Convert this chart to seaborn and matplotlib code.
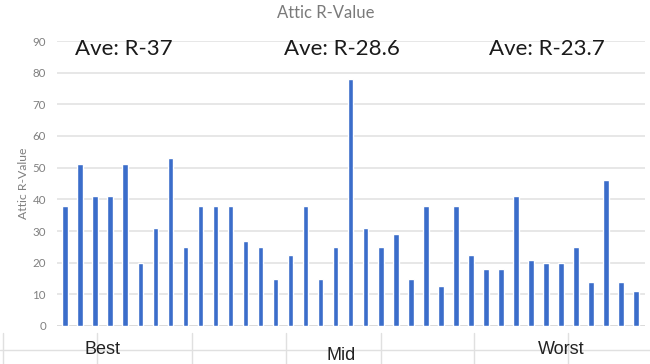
import matplotlib
matplotlib.use("Agg")
import matplotlib.pyplot as plt
from matplotlib.lines import Line2D
import seaborn as sns
import pandas as pd

# Attic R-values per home, ordered from best to worst group
homes = [f"H{i + 1}" for i in range(39)]
r_values = [38, 51, 41, 41, 51, 20, 31, 53, 25, 38,
            38, 38, 27, 25, 15, 22.5, 38, 15, 25, 78,
            31, 25, 29, 15, 38, 12.5, 38, 22.5, 18, 18,
            41, 21, 20, 20, 25, 14, 46, 14, 11]
groups = ["Best", "Mid", "Worst"]
group_averages = ["Ave: R-37", "Ave: R-28.6", "Ave: R-23.7"]
y_ticks = list(range(0, 91, 10))

df = pd.DataFrame({"home": homes, "r": r_values})

sns.set_theme(style="white")
plt.rcParams["font.family"] = ["Lato", "DejaVu Sans"]

fig = plt.figure(figsize=(6.5, 3.64), dpi=100)
ax = fig.add_axes([57 / 650, 38 / 364, 588 / 650, 285 / 364])

sns.barplot(data=df, x="home", y="r", color="#3b6dca", saturation=1,
            width=0.38, ax=ax, zorder=3)

ax.set_ylim(0, 90)
ax.set_xlim(-0.55, 38.6)
ax.set_yticks(y_ticks)
ax.set_yticklabels([str(t) for t in y_ticks], color="#808080", fontsize=8.3)
ax.tick_params(axis="y", length=0, pad=8)
ax.set_xticks([])
ax.set_xlabel("")
ax.set_ylabel("Attic R-Value", color="#808080", fontsize=8.8)
ax.yaxis.set_label_coords(-0.048, 0.5)
ax.grid(axis="y", color="#e3e3e3", linewidth=1.2, zorder=0)
for s in ax.spines.values():
    s.set_visible(False)
ax.axhline(0, color="#d9d9d9", linewidth=1.2, zorder=2)

fig.text(326 / 650, 1 - 13 / 364, "Attic R-Value", ha="center", va="center",
         color="#7a7a7a", fontsize=12)

# group averages
ave_x = [124, 342, 547]
for x, label in zip(ave_x, group_averages):
    fig.text(x / 650, 1 - 49 / 364, label, ha="center", va="center",
             color="#1a1a1a", fontsize=16)

# category axis below the bars
fig.add_artist(Line2D([0, 1], [1 - 350 / 364] * 2, color="#e0e0e0",
                      linewidth=1.0, transform=fig.transFigure))
for px in [3, 97, 192, 286, 381, 474, 568]:
    fig.add_artist(Line2D([px / 650] * 2, [0, 1 - 333 / 364], color="#e0e0e0",
                          linewidth=1.0, transform=fig.transFigure))
label_pos = [(103, 350), (341, 355), (561, 350)]
for (px, py), g in zip(label_pos, groups):
    fig.text(px / 650, 1 - py / 364, g, ha="center", va="center",
             color="#222222", fontsize=13, family=["Liberation Sans"])

fig.savefig("out.png", dpi=100)
